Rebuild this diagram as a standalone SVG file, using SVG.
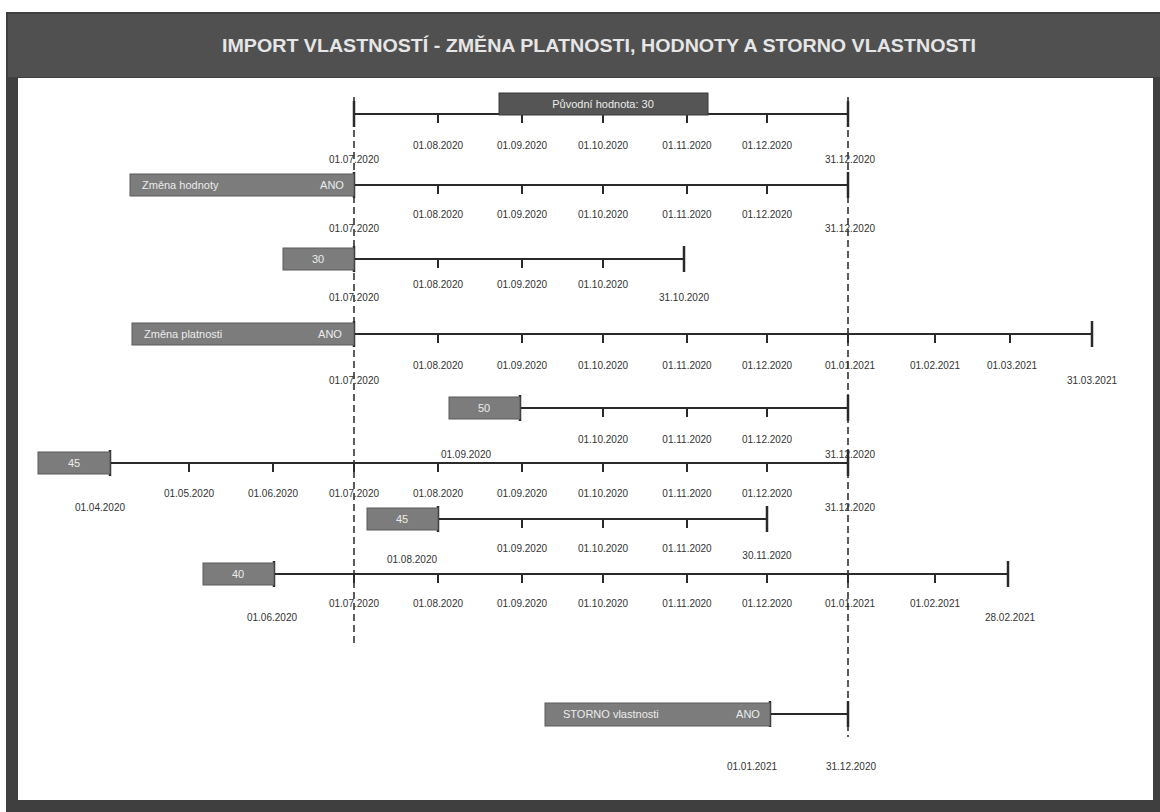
<svg xmlns="http://www.w3.org/2000/svg" width="1160" height="812" viewBox="0 0 1160 812">
<defs>
<style>
.frame{fill:#3f3f3f}
.bar{fill:#505050}
.title{font-family:"Liberation Sans",Arial,sans-serif;font-size:19px;font-weight:bold;fill:#e6e6e6;text-anchor:middle}
.axis{stroke:#2a2a2a;stroke-width:2.2;fill:none}
.tick{stroke:#2a2a2a;stroke-width:2}
.cap{stroke:#2a2a2a;stroke-width:2.5}
.guide{stroke:#333;stroke-width:1.6;stroke-dasharray:7 4;fill:none}
.lbl{font-family:"Liberation Sans",Arial,sans-serif;font-size:10px;fill:#333333;text-anchor:middle}
.box{fill:#7c7c7c;stroke:#5a5a5a;stroke-width:1}
.boxd{fill:#555555;stroke:#3a3a3a;stroke-width:1}
.bt{font-family:"Liberation Sans",Arial,sans-serif;font-size:11px;fill:#ececec}
.btm{font-family:"Liberation Sans",Arial,sans-serif;font-size:11px;fill:#ececec;text-anchor:middle}
</style>
</defs>
<rect x="0" y="0" width="1160" height="812" fill="#ffffff"/>
<g id="frame">
<rect class="frame" x="6" y="12" width="1154" height="800"/>
<rect class="bar" x="8" y="14" width="1152" height="63"/>
<rect x="18" y="78" width="1135" height="722" fill="#ffffff"/>
<text class="title" x="599" y="52" textLength="754" lengthAdjust="spacingAndGlyphs">IMPORT VLASTNOSTÍ - ZMĚNA PLATNOSTI, HODNOTY A STORNO VLASTNOSTI</text>
</g>
<g id="connectors">
<line class="guide" x1="354" y1="97" x2="354" y2="645"/>
<line class="guide" x1="848" y1="97" x2="848" y2="737"/>
</g>
<g id="row1">
<line class="axis" x1="354" y1="114" x2="848" y2="114"/>
<line class="cap" x1="354" y1="101" x2="354" y2="127"/>
<line class="cap" x1="848" y1="101" x2="848" y2="127"/>
<path class="tick" d="M438 114v9M522 114v9M603 114v9M687 114v9M767 114v9"/>
<rect class="boxd" x="499" y="93" width="209" height="22"/>
<text class="btm" x="603" y="108">Původní hodnota: 30</text>
<text class="lbl" x="438" y="149">01.08.2020</text>
<text class="lbl" x="522" y="149">01.09.2020</text>
<text class="lbl" x="603" y="149">01.10.2020</text>
<text class="lbl" x="687" y="149">01.11.2020</text>
<text class="lbl" x="767" y="149">01.12.2020</text>
<text class="lbl" x="354" y="163">01.07.2020</text>
<text class="lbl" x="850" y="163">31.12.2020</text>
</g>
<g id="row2">
<line class="axis" x1="354" y1="185" x2="848" y2="185"/>
<line class="cap" x1="354" y1="172" x2="354" y2="198"/>
<line class="cap" x1="848" y1="172" x2="848" y2="198"/>
<path class="tick" d="M438 185v9M522 185v9M603 185v9M687 185v9M767 185v9"/>
<rect class="box" x="130" y="174" width="224" height="22"/>
<text class="bt" x="142" y="189">Změna hodnoty</text>
<text class="btm" x="332" y="189">ANO</text>
<text class="lbl" x="438" y="218">01.08.2020</text>
<text class="lbl" x="522" y="218">01.09.2020</text>
<text class="lbl" x="603" y="218">01.10.2020</text>
<text class="lbl" x="687" y="218">01.11.2020</text>
<text class="lbl" x="767" y="218">01.12.2020</text>
<text class="lbl" x="354" y="232">01.07.2020</text>
<text class="lbl" x="850" y="232">31.12.2020</text>
</g>
<g id="row3">
<line class="axis" x1="354" y1="259" x2="684" y2="259"/>
<line class="cap" x1="354" y1="246" x2="354" y2="272"/>
<line class="cap" x1="684" y1="246" x2="684" y2="272"/>
<path class="tick" d="M438 259v9M522 259v9M603 259v9"/>
<rect class="box" x="283" y="248" width="71" height="22"/>
<text class="btm" x="318" y="263">30</text>
<text class="lbl" x="438" y="288">01.08.2020</text>
<text class="lbl" x="522" y="288">01.09.2020</text>
<text class="lbl" x="603" y="288">01.10.2020</text>
<text class="lbl" x="354" y="301">01.07.2020</text>
<text class="lbl" x="684" y="301">31.10.2020</text>
</g>
<g id="row4">
<line class="axis" x1="354" y1="334" x2="1092" y2="334"/>
<line class="cap" x1="354" y1="321" x2="354" y2="347"/>
<line class="cap" x1="1092" y1="321" x2="1092" y2="347"/>
<path class="tick" d="M438 334v9M522 334v9M603 334v9M687 334v9M767 334v9M848 334v9M935 334v9M1010 334v9"/>
<rect class="box" x="132" y="323" width="222" height="22"/>
<text class="bt" x="144" y="338">Změna platnosti</text>
<text class="btm" x="330" y="338">ANO</text>
<text class="lbl" x="438" y="369">01.08.2020</text>
<text class="lbl" x="522" y="369">01.09.2020</text>
<text class="lbl" x="603" y="369">01.10.2020</text>
<text class="lbl" x="687" y="369">01.11.2020</text>
<text class="lbl" x="767" y="369">01.12.2020</text>
<text class="lbl" x="850" y="369">01.01.2021</text>
<text class="lbl" x="935" y="369">01.02.2021</text>
<text class="lbl" x="1012" y="369">01.03.2021</text>
<text class="lbl" x="354" y="384">01.07.2020</text>
<text class="lbl" x="1092" y="384">31.03.2021</text>
</g>
<g id="row5">
<line class="axis" x1="520" y1="408" x2="848" y2="408"/>
<line class="cap" x1="520" y1="395" x2="520" y2="421"/>
<line class="cap" x1="848" y1="395" x2="848" y2="421"/>
<path class="tick" d="M603 408v9M687 408v9M767 408v9"/>
<rect class="box" x="449" y="397" width="71" height="22"/>
<text class="btm" x="484" y="412">50</text>
<text class="lbl" x="603" y="443">01.10.2020</text>
<text class="lbl" x="687" y="443">01.11.2020</text>
<text class="lbl" x="767" y="443">01.12.2020</text>
<text class="lbl" x="466" y="458">01.09.2020</text>
<text class="lbl" x="850" y="458">31.12.2020</text>
</g>
<g id="row6">
<line class="axis" x1="110" y1="463" x2="848" y2="463"/>
<line class="cap" x1="110" y1="450" x2="110" y2="476"/>
<line class="cap" x1="848" y1="450" x2="848" y2="476"/>
<path class="tick" d="M189 463v9M273 463v9M354 463v9M438 463v9M522 463v9M603 463v9M687 463v9M767 463v9"/>
<rect class="box" x="38" y="452" width="72" height="22"/>
<text class="btm" x="74" y="467">45</text>
<text class="lbl" x="189" y="497">01.05.2020</text>
<text class="lbl" x="273" y="497">01.06.2020</text>
<text class="lbl" x="354" y="497">01.07.2020</text>
<text class="lbl" x="438" y="497">01.08.2020</text>
<text class="lbl" x="522" y="497">01.09.2020</text>
<text class="lbl" x="603" y="497">01.10.2020</text>
<text class="lbl" x="687" y="497">01.11.2020</text>
<text class="lbl" x="767" y="497">01.12.2020</text>
<text class="lbl" x="100" y="511">01.04.2020</text>
<text class="lbl" x="850" y="511">31.12.2020</text>
</g>
<g id="row7">
<line class="axis" x1="438" y1="519" x2="767" y2="519"/>
<line class="cap" x1="438" y1="506" x2="438" y2="532"/>
<line class="cap" x1="767" y1="506" x2="767" y2="532"/>
<path class="tick" d="M522 519v9M603 519v9M687 519v9"/>
<rect class="box" x="367" y="508" width="71" height="22"/>
<text class="btm" x="402" y="523">45</text>
<text class="lbl" x="522" y="552">01.09.2020</text>
<text class="lbl" x="603" y="552">01.10.2020</text>
<text class="lbl" x="687" y="552">01.11.2020</text>
<text class="lbl" x="412" y="563">01.08.2020</text>
<text class="lbl" x="767" y="559">30.11.2020</text>
</g>
<g id="row8">
<line class="axis" x1="274" y1="574" x2="1008" y2="574"/>
<line class="cap" x1="274" y1="561" x2="274" y2="587"/>
<line class="cap" x1="1008" y1="561" x2="1008" y2="587"/>
<path class="tick" d="M354 574v9M438 574v9M522 574v9M603 574v9M687 574v9M767 574v9M848 574v9M935 574v9"/>
<rect class="box" x="203" y="563" width="71" height="22"/>
<text class="btm" x="238" y="578">40</text>
<text class="lbl" x="354" y="607">01.07.2020</text>
<text class="lbl" x="438" y="607">01.08.2020</text>
<text class="lbl" x="522" y="607">01.09.2020</text>
<text class="lbl" x="603" y="607">01.10.2020</text>
<text class="lbl" x="687" y="607">01.11.2020</text>
<text class="lbl" x="767" y="607">01.12.2020</text>
<text class="lbl" x="850" y="607">01.01.2021</text>
<text class="lbl" x="935" y="607">01.02.2021</text>
<text class="lbl" x="272" y="621">01.06.2020</text>
<text class="lbl" x="1010" y="621">28.02.2021</text>
</g>
<g id="row9">
<line class="axis" x1="770" y1="714" x2="848" y2="714"/>
<line class="cap" x1="770" y1="701" x2="770" y2="727"/>
<line class="cap" x1="848" y1="701" x2="848" y2="727"/>
<rect class="box" x="545" y="703" width="225" height="23"/>
<text class="bt" x="563" y="718">STORNO vlastnosti</text>
<text class="btm" x="748" y="718">ANO</text>
<text class="lbl" x="752" y="770">01.01.2021</text>
<text class="lbl" x="851" y="770">31.12.2020</text>
</g>
</svg>
